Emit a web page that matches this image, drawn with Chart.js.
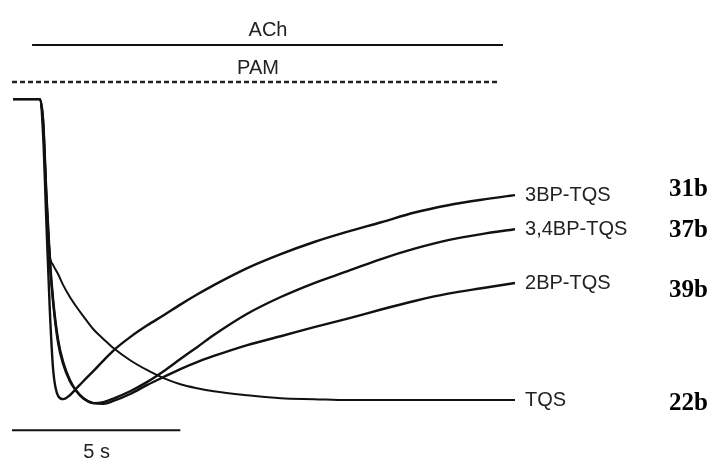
<!DOCTYPE html>
<html>
<head>
<meta charset="utf-8">
<script src="https://cdn.jsdelivr.net/npm/chart.js@4"></script>
<style>
  html, body { margin: 0; padding: 0; background: #fff; }
  canvas { display: block; }
</style>
</head>
<body>
<canvas id="trace" width="715" height="463"></canvas>
<script>
// time in seconds, current normalised to peak (0 = baseline, -1 = peak)
const time = [0, 0.8, 0.9, 1.0, 1.1, 1.2, 1.35, 1.5, 1.7, 1.9, 2.1, 2.4, 2.7, 3.0, 3.5,
  4.0, 4.5, 5, 5.5, 6, 7, 8, 9, 10, 11, 12, 13, 14, 15];

const tqs = [0, 0, -0.086, -0.332, -0.513, -0.546, -0.576, -0.612, -0.651, -0.684, -0.714,
  -0.757, -0.789, -0.819, -0.859, -0.891, -0.918, -0.938, -0.951, -0.961, -0.974, -0.984,
  -0.987, -0.990, -0.990, -0.990, -0.990, -0.990, -0.990];
const bp3 = [0, 0, -0.118, -0.414, -0.694, -0.891, -0.977, -0.987, -0.974, -0.951, -0.928,
  -0.895, -0.860, -0.827, -0.783, -0.745, -0.711, -0.676, -0.643, -0.612, -0.556, -0.510,
  -0.470, -0.436, -0.405, -0.373, -0.349, -0.331, -0.316];
const bp34 = [0, 0, -0.076, -0.332, -0.536, -0.671, -0.803, -0.872, -0.928, -0.961, -0.984,
  -1.000, -0.997, -0.985, -0.961, -0.931, -0.895, -0.855, -0.816, -0.776, -0.706, -0.651,
  -0.605, -0.566, -0.526, -0.492, -0.464, -0.444, -0.428];
const bp2 = [0, 0, -0.069, -0.316, -0.523, -0.661, -0.793, -0.865, -0.924, -0.961, -0.984,
  -1.000, -1.002, -0.993, -0.970, -0.941, -0.914, -0.888, -0.865, -0.845, -0.809, -0.780,
  -0.750, -0.722, -0.692, -0.664, -0.640, -0.622, -0.605];

const traceNames = ['3BP-TQS', '3,4BP-TQS', '2BP-TQS', 'TQS'];
const compoundIds = ['31b', '37b', '39b', '22b'];

// application bars and scale bar (seconds)
const achPeriod = [0.57, 14.64];
const pamPeriod = [-0.03, 14.55];
const scaleBar = [-0.03, 5];

const series = [bp3, bp34, bp2, tqs];

const pts = ys => time.map((t, i) => ({ x: t, y: ys[i] }));
const bar = (span, level) => span.map(t => ({ x: t, y: level }));

const traceSets = series.map((ys, i) => ({
  label: traceNames[i],
  data: pts(ys),
  borderColor: '#111',
  borderWidth: i === 3 ? 2 : 2.4,
  cubicInterpolationMode: 'monotone',
}));

const labels = {
  id: 'labels',
  afterDraw(chart) {
    const { ctx, scales: { x, y } } = chart;
    ctx.save();
    ctx.fillStyle = '#222';
    ctx.textBaseline = 'middle';
    ctx.font = '20px "Liberation Sans", Arial, sans-serif';
    ctx.textAlign = 'center';
    ctx.fillText('ACh', x.getPixelForValue(7.62), y.getPixelForValue(0.178) - 15);
    ctx.fillText('PAM', x.getPixelForValue(7.32), y.getPixelForValue(0.056) - 14);
    ctx.fillText('5 s', x.getPixelForValue(2.5), y.getPixelForValue(-1.089) + 22);

    ctx.textAlign = 'left';
    const offs = [-6, 1, 8, 3];
    series.forEach((ys, i) => {
      const py = y.getPixelForValue(ys[ys.length - 1]);
      ctx.fillStyle = '#222';
      ctx.font = '20px "Liberation Sans", Arial, sans-serif';
      ctx.fillText(traceNames[i], x.getPixelForValue(15.3), py);
      ctx.fillStyle = '#000';
      ctx.font = 'bold 25px "Liberation Serif", "Times New Roman", serif';
      ctx.fillText(compoundIds[i], 669, py + offs[i]);
    });
    ctx.restore();
  },
};

new Chart(document.getElementById('trace'), {
  type: 'line',
  data: {
    datasets: [
      ...traceSets,
      { data: bar(achPeriod, 0.178), borderColor: '#111', borderWidth: 2 },
      { data: bar(pamPeriod, 0.056), borderColor: '#222', borderWidth: 2.5, borderDash: [5, 3] },
      { data: bar(scaleBar, -1.089), borderColor: '#111', borderWidth: 2 },
    ],
  },
  options: {
    responsive: false,
    animation: false,
    layout: { padding: 0 },
    elements: {
      point: { radius: 0 },
      line: { borderJoinStyle: 'round', borderCapStyle: 'butt' },
    },
    scales: {
      x: { type: 'linear', min: -0.3885, max: 20.976, display: false },
      y: { min: -1.197, max: 0.326, display: false },
    },
    plugins: {
      legend: { display: false },
      tooltip: { enabled: false },
    },
  },
  plugins: [labels],
});
</script>
</body>
</html>
